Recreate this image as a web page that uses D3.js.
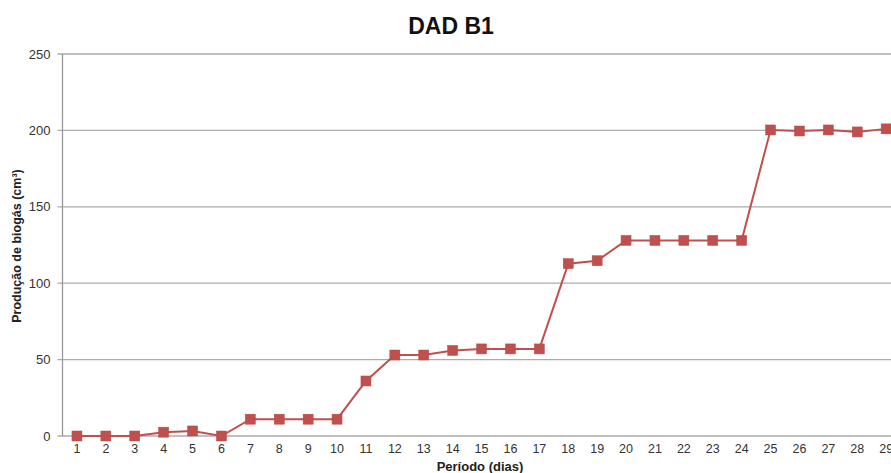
<!DOCTYPE html>
<html>
<head>
<meta charset="utf-8">
<script src="https://cdn.jsdelivr.net/npm/d3@7"></script>
<style>
  body { margin: 0; background: #fff; }
  svg { display: block; font-family: "Liberation Sans", Arial, sans-serif; }
</style>
</head>
<body>
<svg id="chart" width="891" height="473"></svg>
<script>
// days (categories) and biogas production values
var days = d3.range(1, 30).map(String)
var producao = [0, 0, 0, 2.5, 3.3, 0, 11, 11, 11, 11, 36, 53, 53, 56, 57, 57, 57,
                112.8, 114.7, 128, 128, 128, 128, 128, 200.3, 199.6, 200.3, 199, 201]
var yTicks = [0, 50, 100, 150, 200, 250]

var margin = {top: 54, left: 62.5},
    bandW = 28.9,
    height = 382

var svg = d3.select('#chart')
var g = svg.append('g').attr('transform', 'translate(' + margin.left + ',' + margin.top + ')')

var xScale = d3.scaleBand()
    .domain(days)
    .range([0, bandW * days.length])

var yScale = d3.scaleLinear()
    .domain([0, 250])
    .range([height, 0])

// gridlines
g.append('g')
    .selectAll('line')
    .data(yTicks)
    .enter()
    .append('line')
    .attr('x1', -5)
    .attr('x2', bandW * days.length)
    .attr('y1', d => yScale(d))
    .attr('y2', d => yScale(d))
    .attr('stroke', '#ababab')
    .attr('stroke-width', 1.3)

// y axis
var yAxis = d3.axisLeft(yScale).tickValues(yTicks).tickSize(0).tickPadding(12)
var ya = g.append('g').call(yAxis)
ya.select('.domain').remove()
ya.selectAll('text').attr('font-size', 13).attr('fill', '#333')

g.append('line')
    .attr('x1', 0).attr('x2', 0)
    .attr('y1', 0).attr('y2', height)
    .attr('stroke', '#999').attr('stroke-width', 1.3)

// x axis
var xAxis = d3.axisBottom(xScale).tickSize(0).tickPadding(8)
var xa = g.append('g').attr('transform', 'translate(0,' + height + ')').call(xAxis)
xa.select('.domain').remove()
xa.selectAll('text').attr('font-size', 12.5).attr('fill', '#333')

// series line
var line = d3.line()
    .x((d, i) => xScale(days[i]) + xScale.bandwidth() / 2)
    .y(d => yScale(d))

g.append('path')
    .datum(producao)
    .attr('d', line)
    .attr('fill', 'none')
    .attr('stroke', '#c0504d')
    .attr('stroke-width', 2)

// square markers
g.selectAll('.marker')
    .data(producao)
    .enter()
    .append('rect')
    .attr('class', 'marker')
    .attr('x', (d, i) => xScale(days[i]) + xScale.bandwidth() / 2 - 5)
    .attr('y', d => yScale(d) - 5)
    .attr('width', 10)
    .attr('height', 10)
    .attr('fill', '#c0504d')
    .attr('stroke', '#b84a47')
    .attr('stroke-width', 0.5)

// title
svg.append('text')
    .attr('x', 451)
    .attr('y', 34)
    .attr('text-anchor', 'middle')
    .attr('font-size', 23)
    .attr('font-weight', 'bold')
    .attr('fill', '#111')
    .text('DAD B1')

// axis labels
svg.append('text')
    .attr('x', 480)
    .attr('y', 471)
    .attr('text-anchor', 'middle')
    .attr('font-size', 13)
    .attr('font-weight', 'bold')
    .attr('fill', '#222')
    .text('Período (dias)')

svg.append('text')
    .attr('transform', 'translate(21,246) rotate(-90)')
    .attr('text-anchor', 'middle')
    .attr('font-size', 12.5)
    .attr('font-weight', 'bold')
    .attr('fill', '#222')
    .text('Produção de biogás (cm³)')
</script>
</body>
</html>
